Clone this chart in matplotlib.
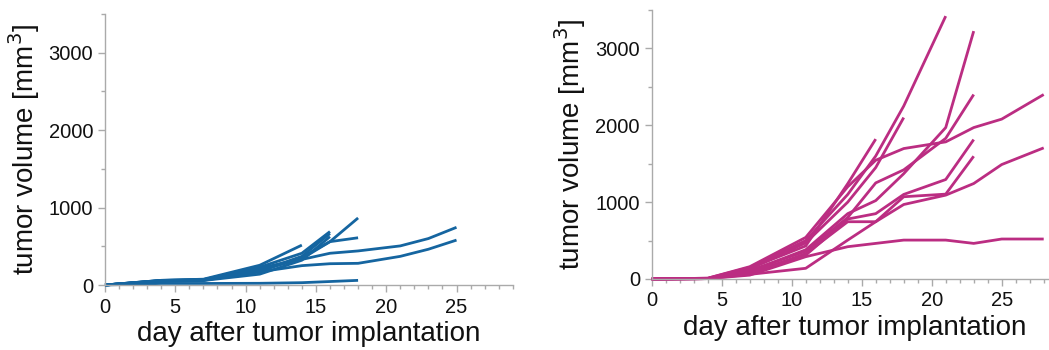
import matplotlib
matplotlib.use("Agg")
import matplotlib.pyplot as plt
from matplotlib.ticker import MultipleLocator

plt.rcParams['font.family'] = ['Liberation Sans', 'DejaVu Sans']

days = [0, 4, 7, 11, 14, 16, 18, 21, 23, 25, 28]

# Left panel (blue) tumor volumes, each list follows `days` until the mouse's last measurement
blue_series = [
    [0, 55, 65, 200, 330, 410, 440, 505, 600, 745],
    [0, 50, 60, 170, 250, 275, 280, 370, 462, 580],
    [0, 60, 70, 215, 340, 560, 866],
    [0, 55, 65, 175, 360, 560, 610],
    [0, 20, 20, 22, 30, 45, 60],
    [0, 60, 75, 255, 515],
    [0, 58, 70, 230, 410, 690],
    [0, 52, 62, 180, 370, 665],
    [0, 48, 58, 140, 320, 625],
]

# Right panel (magenta) tumor volumes
pink_series = [
    [0, 10, 150, 500, 1100, 1600, 2250, 3420],
    [0, 5, 130, 470, 1000, 1450, 2100],
    [0, 5, 140, 430, 1240, 1820],
    [0, 5, 100, 380, 850, 1020, 1370, 1970, 3225],
    [0, 5, 110, 360, 800, 1250, 1420, 1830, 2400],
    [0, 10, 160, 541, 1200, 1545, 1697, 1784, 1970, 2080, 2400],
    [0, 5, 90, 310, 780, 850, 1100, 1294, 1814],
    [0, 5, 60, 139, 506, 745, 1070, 1104, 1597],
    [0, 5, 70, 330, 745, 745, 969, 1091, 1242, 1489, 1706],
    [0, 5, 50, 290, 420, 463, 506, 506, 463, 520, 520],
]

blue = '#1565a0'
pink = '#bb2d82'
grey = '#aaaaaa'
xlabel = 'day after tumor implantation'
ylabel = 'tumor volume [mm$^3$]'

fig = plt.figure(figsize=(10.49, 3.5), dpi=100)
ax1 = fig.add_axes([0.1001, 0.1857, 0.3887, 0.7743])
ax2 = fig.add_axes([0.6213, 0.2029, 0.387, 0.7686])


def style(ax):
    for s in ['top', 'right']:
        ax.spines[s].set_visible(False)
    for s in ['left', 'bottom']:
        ax.spines[s].set_color(grey)
        ax.spines[s].set_linewidth(1.0)
    ax.set_xlim(0, 29)
    ax.set_ylim(0, 3500)
    ax.xaxis.set_major_locator(MultipleLocator(5))
    ax.xaxis.set_minor_locator(MultipleLocator(1))
    ax.yaxis.set_major_locator(MultipleLocator(1000))
    ax.yaxis.set_minor_locator(MultipleLocator(500))
    ax.tick_params(which='major', length=5, width=1, color=grey, labelsize=14.5, labelcolor='#111111')
    ax.tick_params(which='minor', length=3, width=1, color=grey)
    ax.tick_params(axis='x', pad=4)
    ax.set_xlabel(xlabel, fontsize=20, color='#111111', labelpad=3)
    ax.set_ylabel(ylabel, fontsize=20, color='#111111', labelpad=5)


for s in blue_series:
    ax1.plot(days[:len(s)], s, color=blue, lw=2.0, solid_capstyle='butt', clip_on=False)
for s in pink_series:
    ax2.plot(days[:len(s)], s, color=pink, lw=2.0, solid_capstyle='butt', clip_on=False)

style(ax1)
style(ax2)

fig.savefig('out.png', dpi=100)
